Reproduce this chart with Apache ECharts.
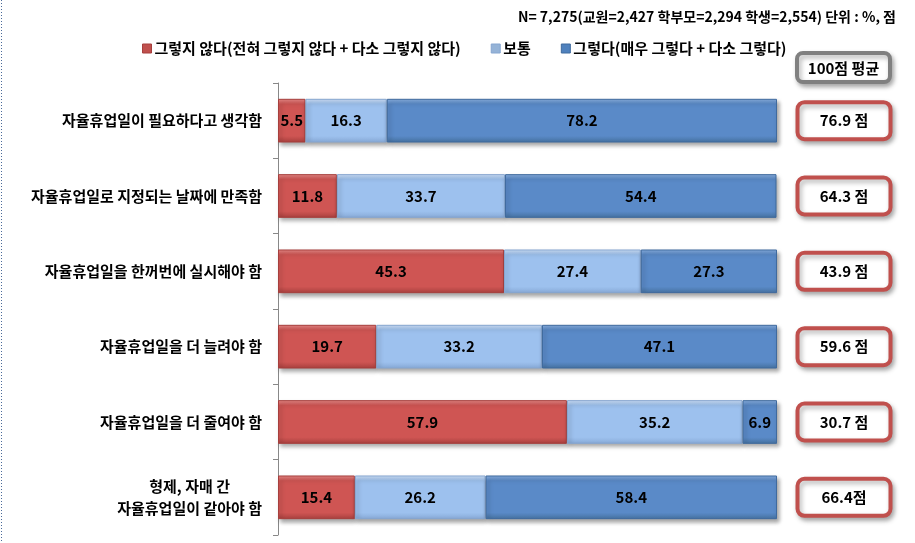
<!DOCTYPE html>
<html><head><meta charset="utf-8">
<script src="https://cdn.jsdelivr.net/npm/echarts@6/dist/echarts.min.js"></script>
<style>html,body{margin:0;padding:0;background:#fff}#c{width:915px;height:543px}</style>
</head><body><div id="c"></div>
<script>
const categories = [
  '자율휴업일이 필요하다고 생각함',
  '자율휴업일로 지정되는 날짜에 만족함',
  '자율휴업일을 한꺼번에 실시해야 함',
  '자율휴업일을 더 늘려야 함',
  '자율휴업일을 더 줄여야 함',
  '형제, 자매 간\n자율휴업일이 같아야 함'
];
const seriesNames = ['그렇지 않다(전혀 그렇지 않다 + 다소 그렇지 않다)', '보통', '그렇다(매우 그렇다 + 다소 그렇다)'];
const disagree = [5.5, 11.8, 45.3, 19.7, 57.9, 15.4];
const neutral  = [16.3, 33.7, 27.4, 33.2, 35.2, 26.2];
const agree    = [78.2, 54.4, 27.3, 47.1, 6.9, 58.4];
const scores   = [76.9, 64.3, 43.9, 59.6, 30.7, 66.4];
const scoreUnits = [' 점', ' 점', ' 점', ' 점', ' 점', '점'];
const titleText = 'N= 7,275(교원=2,427 학부모=2,294 학생=2,554) 단위 : %, 점';
const headerText = '100점 평균';

const FONT = '"Noto Sans CJK KR", "Noto Sans", sans-serif';
function grad(top, mid, bot) {
  return new echarts.graphic.LinearGradient(0, 0, 0, 1, [
    {offset: 0, color: top}, {offset: 0.12, color: mid}, {offset: 0.85, color: mid}, {offset: 1, color: bot}
  ]);
}
const colors = [
  {fill: grad('#E88A88', '#CF5553', '#A8403E'), border: '#A63F3D', legend: '#C0504D'},
  {fill: grad('#CFE1F8', '#9DC1EE', '#87A9D6'), border: '#86A6D0', legend: '#95B3D7'},
  {fill: grad('#8AB0E0', '#5A8AC8', '#45719F'), border: '#3F6A9E', legend: '#4F81BD'}
];
const dataSets = [disagree, neutral, agree];

const chart = echarts.init(document.getElementById('c'));
const barSeries = dataSets.map((d, i) => ({
  name: seriesNames[i],
  type: 'bar',
  stack: 'total',
  xAxisIndex: 0, yAxisIndex: 0,
  barCategoryGap: '42%',
  data: d,
  itemStyle: {
    color: colors[i].fill, borderColor: colors[i].border, borderWidth: 1,
    shadowColor: 'rgba(0,0,0,0.35)', shadowBlur: 4, shadowOffsetX: 2, shadowOffsetY: 3
  },
  label: {
    show: true, position: 'inside', color: '#000',
    fontFamily: FONT, fontSize: 15, fontWeight: 'bold',
    formatter: p => p.value.toFixed(1)
  }
}));

chart.setOption({
  animation: false,
  title: {
    text: titleText, right: 14, top: 5,
    textStyle: {fontFamily: FONT, fontSize: 14, fontWeight: 'bold', color: '#000'}
  },
  legend: {
    left: 137, top: 36, itemWidth: 9, itemHeight: 9, itemGap: 30,
    icon: 'rect',
    data: seriesNames.map((n, i) => ({name: n, itemStyle: {color: colors[i].legend, borderColor: colors[i].border, borderWidth: 1}})),
    textStyle: {fontFamily: FONT, fontSize: 15, fontWeight: 'bold', color: '#000', padding: [0,0,0,-2]}
  },
  grid: [
    {left: 278, right: 138, top: 83, bottom: 8},
    {left: 795, width: 98, top: 83, bottom: 8}
  ],
  xAxis: [
    {type: 'value', min: 0, max: 100, show: false, gridIndex: 0},
    {type: 'value', min: -1, max: 1, show: false, gridIndex: 1}
  ],
  yAxis: [
    {
      type: 'category', data: categories, inverse: true, gridIndex: 0,
      axisLine: {show: true, lineStyle: {color: '#888', width: 1}},
      axisTick: {show: true, length: 5, lineStyle: {color: '#888'}},
      splitLine: {show: false},
      axisLabel: {
        margin: 16, color: '#000', fontFamily: FONT, fontSize: 15, fontWeight: 'bold',
        lineHeight: 22,
        formatter: v => v.split('\n').map(s => '{c|' + s + '}').join('\n'),
        rich: {c: {align: 'center', fontFamily: FONT, fontSize: 15, fontWeight: 'bold', color: '#000', lineHeight: 22}}
      }
    },
    {type: 'category', data: categories, inverse: true, gridIndex: 1, show: false}
  ],
  graphic: [
    {type: 'line', shape: {x1: 1.5, y1: 0, x2: 1.5, y2: 543}, style: {stroke: '#4A6A9A', lineWidth: 1, lineDash: [1, 2]}},
    {
      type: 'rect', shape: {x: 797, y: 53, width: 93, height: 29, r: 6},
      style: {fill: '#fff', stroke: '#808080', lineWidth: 4, shadowColor: 'rgba(0,0,0,0.3)', shadowBlur: 5, shadowOffsetX: 2, shadowOffsetY: 3}
    },
    {
      type: 'text', x: 843.5, y: 68,
      style: {text: headerText, fontFamily: FONT, fontSize: 15, fontWeight: 'bold', fill: '#000', align: 'center', verticalAlign: 'middle'}
    }
  ],
  series: barSeries.concat([{
    type: 'custom', xAxisIndex: 1, yAxisIndex: 1, clip: false,
    data: scores.map((s, i) => [0, i]),
    renderItem: (params, api) => {
      const c = api.coord([0, api.value(1)]);
      const w = 93, h = 37;
      return {
        type: 'group',
        children: [
          {type: 'rect', shape: {x: c[0] - w / 2, y: c[1] - h / 2, width: w, height: h, r: 7},
           style: {fill: '#fff', stroke: '#C0504D', lineWidth: 4, shadowColor: 'rgba(0,0,0,0.3)', shadowBlur: 5, shadowOffsetX: 2, shadowOffsetY: 3}},
          {type: 'text', x: c[0], y: c[1],
           style: {text: scores[params.dataIndex].toFixed(1) + scoreUnits[params.dataIndex], fontFamily: FONT, fontSize: 15, fontWeight: 'bold', fill: '#000', align: 'center', verticalAlign: 'middle'}}
        ]
      };
    }
  }])
});
</script></body></html>
